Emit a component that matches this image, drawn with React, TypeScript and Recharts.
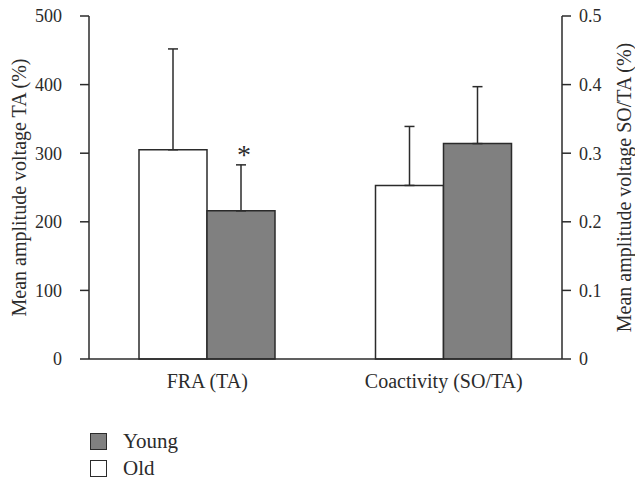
import React from "react";
import { BarChart, Bar, XAxis, YAxis, ErrorBar, LabelList } from "recharts";

const categories = ["FRA (TA)", "Coactivity (SO/TA)"];
const oldMeans = [305, 0.253];
const oldErrors = [147, 0.086];
const youngMeans = [216, 0.314];
const youngErrors = [67, 0.083];
const marks = ["*", ""];
const leftTicks = [0, 100, 200, 300, 400, 500];
const rightTicks = [0, 0.1, 0.2, 0.3, 0.4, 0.5];
// coactivity is read on the right axis (0–0.5), which shares the left axis' 0–500 range
const toLeft = [1, 1000];

const data = categories.map((name, i) => ({
  name,
  old: oldMeans[i] * toLeft[i],
  oldErr: [0, oldErrors[i] * toLeft[i]],
  young: youngMeans[i] * toLeft[i],
  youngErr: [0, youngErrors[i] * toLeft[i]],
  mark: marks[i],
}));

const ink = "#2b2b2b";
const font = "'Liberation Serif', 'Times New Roman', serif";
const tickStyle = { fill: ink, fontSize: 18, fontFamily: font };

const Star = (props: any) => {
  const { x, y, width, value } = props;
  if (!value) return null;
  return (
    <text x={x + width / 2 + 3} y={y - 47} textAnchor="middle" fill={ink} fontSize={28} fontFamily={font}>
      {value}
    </text>
  );
};

export default function App() {
  return (
    <div style={{ position: "relative", width: 635, height: 479, background: "#fff" }}>
      <style>{"body{margin:0}"}</style>
      <BarChart
        width={635}
        height={479}
        data={data}
        margin={{ top: 16, right: 0, bottom: 80, left: 0 }}
        barCategoryGap={50}
        barGap={0}
      >
        <XAxis
          dataKey="name"
          height={40}
          tickLine={false}
          tickSize={0}
          tickMargin={15}
          axisLine={{ stroke: ink, strokeWidth: 1.5 }}
          tick={{ ...tickStyle, fontSize: 20 }}
        />
        <YAxis
          yAxisId="left"
          domain={[0, 500]}
          ticks={leftTicks}
          width={89}
          tickSize={9}
          tickMargin={18}
          axisLine={{ stroke: ink, strokeWidth: 1.5 }}
          tickLine={{ stroke: ink, strokeWidth: 1.5 }}
          tick={tickStyle}
          label={{
            value: "Mean amplitude voltage TA (%)",
            angle: -90,
            position: "insideLeft",
            dx: 14,
            style: { textAnchor: "middle", fill: ink, fontSize: 20, fontFamily: font },
          }}
        />
        <YAxis
          yAxisId="right"
          orientation="right"
          domain={[0, 0.5]}
          ticks={rightTicks}
          allowDataOverflow
          width={73}
          tickSize={9}
          tickMargin={8}
          axisLine={{ stroke: ink, strokeWidth: 1.5 }}
          tickLine={{ stroke: ink, strokeWidth: 1.5 }}
          tick={tickStyle}
          label={{
            value: "Mean amplitude voltage SO/TA (%)",
            angle: -90,
            position: "insideRight",
            dx: -6,
            style: { textAnchor: "middle", fill: ink, fontSize: 20, fontFamily: font },
          }}
        />
        <Bar yAxisId="left" dataKey="old" fill="#ffffff" stroke={ink} strokeWidth={1.5} isAnimationActive={false}>
          <ErrorBar dataKey="oldErr" direction="y" width={5} stroke={ink} strokeWidth={1.5} />
        </Bar>
        <Bar yAxisId="left" dataKey="young" fill="#808080" stroke={ink} strokeWidth={1.5} isAnimationActive={false}>
          <ErrorBar dataKey="youngErr" direction="y" width={5} stroke={ink} strokeWidth={1.5} />
          <LabelList dataKey="mark" content={<Star />} />
        </Bar>
      </BarChart>
      <div style={{ position: "absolute", left: 90, top: 428, fontFamily: font, fontSize: 21, color: ink, lineHeight: "27px" }}>
        {[
          { label: "Young", fill: "#808080" },
          { label: "Old", fill: "#ffffff" },
        ].map((d) => (
          <div key={d.label} style={{ display: "flex", alignItems: "center", height: 27 }}>
            <span
              style={{
                display: "inline-block",
                boxSizing: "border-box",
                width: 17,
                height: 17,
                background: d.fill,
                border: `1.5px solid ${ink}`,
                marginRight: 16,
              }}
            />
            {d.label}
          </div>
        ))}
      </div>
    </div>
  );
}
